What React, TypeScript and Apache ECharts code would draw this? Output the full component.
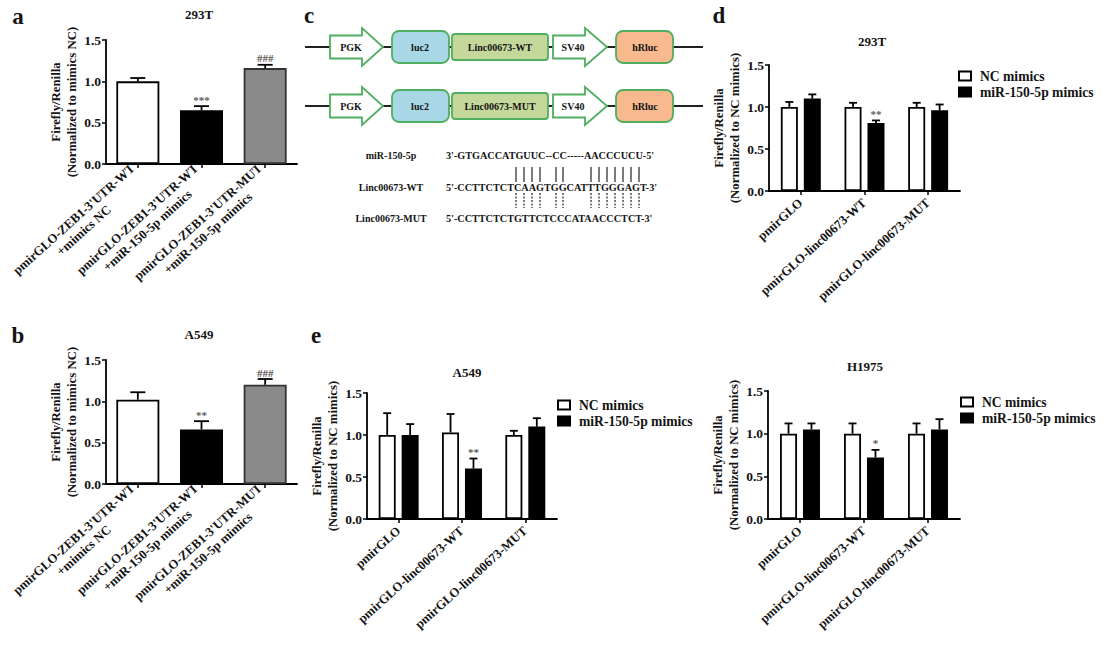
import React, { useEffect, useRef } from 'react';
import * as echarts from 'echarts';

const FONT = '"Liberation Serif", "Times New Roman", Times, serif';
const TXT = '#141414';

// ---------- data ----------
const yTicks = [0, 0.5, 1.0, 1.5];

const zebCategories = [
  "pmirGLO-ZEB1-3'UTR-WT\n+mimics NC",
  "pmirGLO-ZEB1-3'UTR-WT\n+miR-150-5p mimics",
  "pmirGLO-ZEB1-3'UTR-MUT\n+miR-150-5p mimics",
];
const aMeans = [1.0, 0.65, 1.16];
const aUpper = [1.04, 0.7, 1.2];
const aMarks = ['', '***', '###'];
const bMeans = [1.02, 0.66, 1.2];
const bUpper = [1.11, 0.76, 1.27];
const bMarks = ['', '**', '###'];

const lincCategories = ['pmirGLO', 'pmirGLO-linc00673-WT', 'pmirGLO-linc00673-MUT'];
const seriesNames = ['NC mimics', 'miR-150-5p mimics'];

const dNC = [1.0, 1.0, 1.0];
const dNCUpper = [1.06, 1.05, 1.05];
const dMiR = [1.1, 0.81, 0.96];
const dMiRUpper = [1.15, 0.84, 1.03];
const dMarks = ['', '**', ''];

const eNC = [1.0, 1.03, 1.0];
const eNCUpper = [1.26, 1.25, 1.05];
const eMiR = [1.0, 0.6, 1.1];
const eMiRUpper = [1.13, 0.72, 1.2];
const eMarks = ['', '**', ''];

const fNC = [1.0, 1.0, 1.0];
const fNCUpper = [1.12, 1.12, 1.12];
const fMiR = [1.05, 0.72, 1.05];
const fMiRUpper = [1.12, 0.81, 1.17];
const fMarks = ['', '*', ''];

const titles = ['293T', 'A549', '293T', 'A549', 'H1975'];
const panelLetters = ['a', 'b', 'c', 'd', 'e'];

const seqLabels = ['miR-150-5p', 'Linc00673-WT', 'Linc00673-MUT'];
const seqTexts = [
  "3'-GTGACCATGUUC--CC-----AACCCUCU-5'",
  "5'-CCTTCTCTCAAGTGGCATTTGGGAGT-3'",
  "5'-CCTTCTCTGTTCTCCCATAACCCTCT-3'",
];
const constructNames = ['Linc00673-WT', 'Linc00673-MUT'];

// ---------- styles ----------
const zebStyles = [
  { color: '#ffffff', borderColor: '#000', borderWidth: 1.8 },
  { color: '#000000', borderColor: '#000', borderWidth: 1.8 },
  { color: '#8a8a8a', borderColor: '#333', borderWidth: 1.8 },
];
const ncStyle = { color: '#ffffff', borderColor: '#000', borderWidth: 1.8 };
const miStyle = { color: '#000000', borderColor: '#000', borderWidth: 1.8 };
const GREEN = '#4fae5f';

function grid(left: number, top: number, width: number, height: number) {
  return { left, top, width, height, containLabel: false, outerBoundsMode: 'none' };
}

function xAxis(gi: number, cats: string[], twoLine: boolean, margin: number) {
  const base: any = {
    type: 'category',
    gridIndex: gi,
    data: cats,
    axisLine: { show: true, lineStyle: { color: '#000', width: 1.8 } },
    axisTick: { show: true, alignWithLabel: true, length: 4, lineStyle: { color: '#000', width: 1.5 } },
    axisLabel: {
      interval: 0,
      rotate: 42,
      margin,
      color: TXT,
      fontFamily: FONT,
      fontWeight: 'bold',
      fontSize: 12.8,
    },
  };
  if (twoLine) {
    base.axisLabel.formatter = (v: string) => {
      const [l1, l2] = v.split('\n');
      return `{a|${l1}}\n{b|${l2}}`;
    };
    base.axisLabel.rich = {
      a: { fontFamily: FONT, fontWeight: 'bold', fontSize: 12.8, color: TXT, lineHeight: 15 },
      b: { fontFamily: FONT, fontWeight: 'bold', fontSize: 12.8, color: TXT, lineHeight: 15, align: 'center' },
    };
  }
  return base;
}

function yAxis(gi: number, name: string, gap: number) {
  return {
    type: 'value',
    gridIndex: gi,
    min: yTicks[0],
    max: yTicks[yTicks.length - 1],
    interval: yTicks[1] - yTicks[0],
    name,
    nameLocation: 'middle',
    nameRotate: 90,
    nameGap: gap,
    nameTextStyle: { fontFamily: FONT, fontWeight: 'bold', fontSize: 12.8, color: TXT, lineHeight: 16 },
    axisLine: { show: true, lineStyle: { color: '#000', width: 1.8 } },
    axisTick: { show: true, length: 4, lineStyle: { color: '#000', width: 1.5 } },
    splitLine: { show: false },
    axisLabel: {
      margin: 5,
      formatter: (v: number) => v.toFixed(1),
      fontFamily: FONT,
      fontWeight: 'bold',
      fontSize: 13.5,
      color: TXT,
    },
  };
}

function errSeries(gi: number, means: number[], upper: number[], marks: string[], offset: number, capW: number) {
  return {
    type: 'custom',
    xAxisIndex: gi,
    yAxisIndex: gi,
    z: 5,
    silent: true,
    data: means.map((m, i) => [i, m, upper[i]]),
    renderItem: (params: any, api: any) => {
      const idx = params.dataIndex;
      const top = api.coord([api.value(0), api.value(1)]);
      const up = api.coord([api.value(0), api.value(2)]);
      const x = top[0] + offset;
      const children: any[] = [
        { type: 'line', shape: { x1: x, y1: top[1], x2: x, y2: up[1] }, style: { stroke: '#000', lineWidth: 1.8 } },
        { type: 'line', shape: { x1: x - capW / 2, y1: up[1], x2: x + capW / 2, y2: up[1] }, style: { stroke: '#000', lineWidth: 1.8 } },
      ];
      if (marks[idx]) {
        children.push({
          type: 'text',
          x,
          y: up[1] - 1,
          style: {
            text: marks[idx],
            fill: '#5a5a5a',
            fontFamily: FONT,
            fontWeight: 'bold',
            fontSize: 11,
            align: 'center',
            verticalAlign: 'bottom',
          },
        });
      }
      return { type: 'group', children };
    },
  };
}

function barSeries(gi: number, name: string, values: number[], style: any, width: number) {
  return {
    type: 'bar',
    name,
    xAxisIndex: gi,
    yAxisIndex: gi,
    barWidth: width,
    barGap: '35%',
    data: values,
    itemStyle: style,
    silent: true,
  };
}

function txt(text: string, x: number, y: number, size: number, align = 'center', color = TXT): any {
  return {
    type: 'text',
    x,
    y,
    silent: true,
    style: {
      text,
      fill: color,
      fontFamily: FONT,
      fontWeight: 'bold',
      fontSize: size,
      align,
      verticalAlign: 'middle',
    },
  };
}

function arrow(x0: number, xHead: number, xTip: number, cy: number): any {
  return {
    type: 'polygon',
    silent: true,
    shape: {
      points: [
        [x0, cy - 11.5],
        [xHead, cy - 11.5],
        [xHead, cy - 19],
        [xTip, cy],
        [xHead, cy + 19],
        [xHead, cy + 11.5],
        [x0, cy + 11.5],
      ],
    },
    style: { fill: '#fff', stroke: GREEN, lineWidth: 1.8 },
  };
}

function box(x: number, y: number, w: number, h: number, fill: string, r: number): any {
  return {
    type: 'rect',
    silent: true,
    shape: { x, y, width: w, height: h, r },
    style: { fill, stroke: GREEN, lineWidth: 1.8 },
  };
}

function diagram(): any[] {
  const els: any[] = [];
  const rows = [47, 106];
  rows.forEach((cy, r) => {
    els.push({ type: 'line', silent: true, shape: { x1: 305, y1: cy, x2: 703, y2: cy }, style: { stroke: '#222', lineWidth: 2 } });
    els.push(arrow(330, 362, 383, cy));
    els.push(txt('PGK', 351, cy, 10));
    els.push(box(392, cy - 16, 57, 32, '#a8d7e6', 7));
    els.push(txt('luc2', 420, cy, 10));
    els.push(box(452, cy - 13, 96, 26, '#c4d89c', 3));
    els.push(txt(constructNames[r], 500, cy, 10));
    els.push(arrow(553, 585, 607, cy));
    els.push(txt('SV40', 573, cy, 10));
    els.push(box(616, cy - 16, 57, 32, '#f7b98d', 7));
    els.push(txt('hRluc', 645, cy, 10));
  });
  const seqY = [155, 187, 218];
  seqLabels.forEach((l, i) => {
    els.push(txt(l, 391, seqY[i], 10));
    els.push(txt(seqTexts[i], 446, seqY[i], 10.2, 'left'));
  });
  const pairX = [516, 524, 532, 540, 556, 563, 591, 599, 607, 615, 623, 631, 639];
  pairX.forEach((x) => {
    els.push({ type: 'line', silent: true, shape: { x1: x, y1: 167, x2: x, y2: 182 }, style: { stroke: '#333', lineWidth: 1.3 } });
    els.push({ type: 'line', silent: true, shape: { x1: x, y1: 193, x2: x, y2: 208 }, style: { stroke: '#333', lineWidth: 1.3, lineDash: [2, 1.5] } });
  });
  return els;
}

const letterPos = [
  [18, 16],
  [18, 335],
  [309, 15],
  [719, 15],
  [316, 335],
];

function legend(left: number, top: number) {
  return {
    left,
    top,
    orient: 'vertical',
    padding: 0,
    itemWidth: 12,
    itemHeight: 9,
    itemGap: 2,
    icon: 'rect',
    selectedMode: false,
    data: seriesNames,
    textStyle: { fontFamily: FONT, fontWeight: 'bold', fontSize: 13.6, color: TXT, padding: [0, 0, 0, 4] },
  };
}

function title(text: string, cx: number, cy: number) {
  return {
    text,
    left: cx,
    top: cy - 7,
    textAlign: 'center',
    padding: 0,
    textStyle: { fontFamily: FONT, fontWeight: 'bold', fontSize: 13, color: TXT },
  };
}

export default function App() {
  const ref = useRef<HTMLDivElement>(null);
  useEffect(() => {
    if (!ref.current) return;
    const chart = echarts.init(ref.current, undefined, { renderer: 'svg' });
    const nameZeb = 'Firefly/Renilla\n(Normalized to mimics NC)';
    const nameNC = 'Firefly/Renilla\n(Normalized to NC mimics)';
    const off = (17 + 17 * 0.35) / 2;
    const option: any = {
      animation: false,
      backgroundColor: '#ffffff',
      title: [
        title(titles[0], 199, 15),
        title(titles[1], 199, 335),
        title(titles[2], 872, 42),
        title(titles[3], 467, 373),
        title(titles[4], 865, 367),
      ],
      legend: [legend(958, 69), legend(557, 398), legend(960, 395)],
      grid: [
        grid(106, 40, 191, 124),
        grid(106, 360, 191, 124),
        grid(769, 65, 191, 126),
        grid(367, 393, 190, 126),
        grid(768, 391, 192, 128),
      ],
      xAxis: [
        xAxis(0, zebCategories, true, 8),
        xAxis(1, zebCategories, true, 8),
        xAxis(2, lincCategories, false, 10),
        xAxis(3, lincCategories, false, 10),
        xAxis(4, lincCategories, false, 10),
      ],
      yAxis: [
        yAxis(0, nameZeb, 19),
        yAxis(1, nameZeb, 19),
        yAxis(2, nameNC, 23),
        yAxis(3, nameNC, 26),
        yAxis(4, nameNC, 25),
      ],
      series: [
        {
          type: 'bar',
          name: 'ZEB1 293T',
          xAxisIndex: 0,
          yAxisIndex: 0,
          barWidth: 43,
          silent: true,
          data: aMeans.map((v, i) => ({ value: v, itemStyle: zebStyles[i] })),
        },
        errSeries(0, aMeans, aUpper, aMarks, 0, 15),
        {
          type: 'bar',
          name: 'ZEB1 A549',
          xAxisIndex: 1,
          yAxisIndex: 1,
          barWidth: 43,
          silent: true,
          data: bMeans.map((v, i) => ({ value: v, itemStyle: zebStyles[i] })),
        },
        errSeries(1, bMeans, bUpper, bMarks, 0, 15),
        barSeries(2, seriesNames[0], dNC, ncStyle, 17),
        barSeries(2, seriesNames[1], dMiR, miStyle, 17),
        errSeries(2, dNC, dNCUpper, ['', '', ''], -off, 8),
        errSeries(2, dMiR, dMiRUpper, dMarks, off, 8),
        barSeries(3, seriesNames[0], eNC, ncStyle, 17),
        barSeries(3, seriesNames[1], eMiR, miStyle, 17),
        errSeries(3, eNC, eNCUpper, ['', '', ''], -off, 8),
        errSeries(3, eMiR, eMiRUpper, eMarks, off, 8),
        barSeries(4, seriesNames[0], fNC, ncStyle, 17),
        barSeries(4, seriesNames[1], fMiR, miStyle, 17),
        errSeries(4, fNC, fNCUpper, ['', '', ''], -off, 8),
        errSeries(4, fMiR, fMiRUpper, fMarks, off, 8),
      ],
      graphic: [
        ...panelLetters.map((l, i) => txt(l, letterPos[i][0], letterPos[i][1], 23)),
        ...diagram(),
      ],
    };
    chart.setOption(option);
    return () => chart.dispose();
  }, []);
  return <div ref={ref} style={{ position: 'fixed', left: 0, top: 0, width: 1106, height: 656, background: '#fff' }} />;
}
